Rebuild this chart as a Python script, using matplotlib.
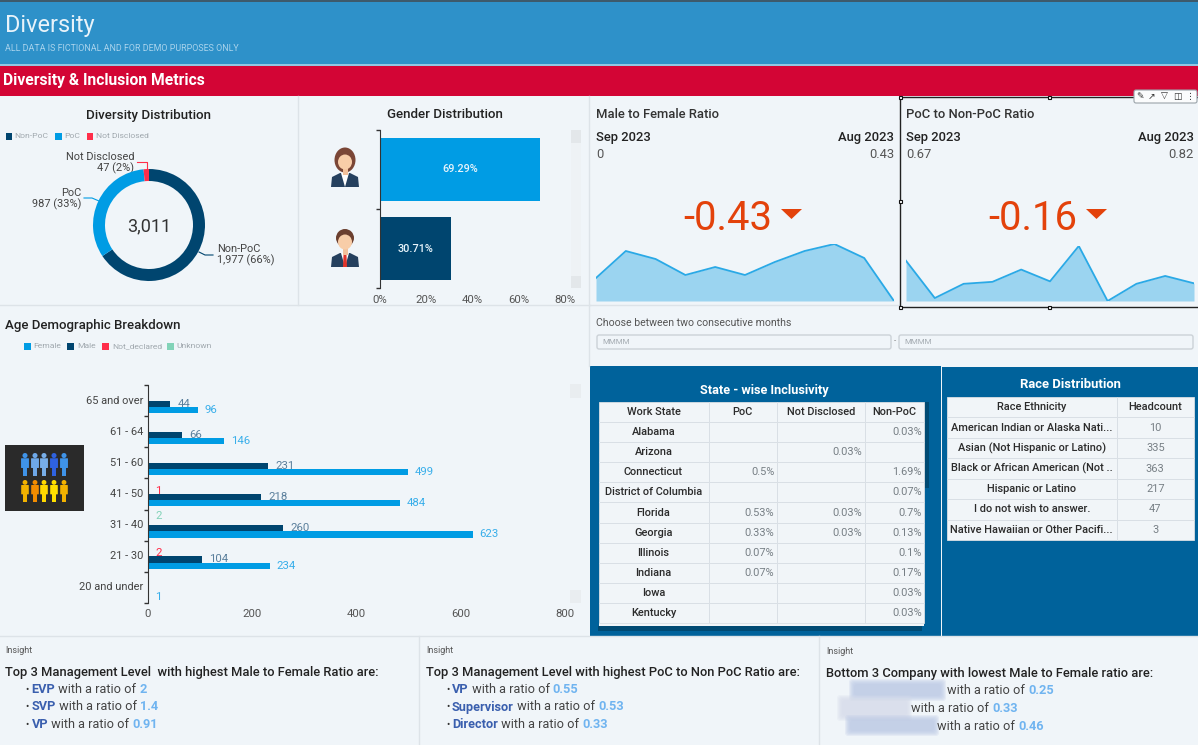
import matplotlib
matplotlib.use('Agg')
import matplotlib.pyplot as plt
from matplotlib.patches import Rectangle, Circle, Ellipse, FancyBboxPatch, Polygon
from matplotlib.table import Table

plt.rcParams['font.family'] = ['Roboto', 'DejaVu Sans']

W, H = 1198, 745

NAVY = '#00456f'
BLUE = '#009ce4'
RED = '#ff2e4a'
TEAL = '#82d3b8'
PAGE = '#f0f5f9'
LINE = '#dde3e8'

# donut
div_labels = ['Non-PoC', 'PoC', 'Not Disclosed']
div_values = [1977, 987, 47]
div_colors = [NAVY, BLUE, RED]

# gender
gender_values = [69.29, 30.71]
gender_colors = [BLUE, NAVY]
gender_ticks = [0, 20, 40, 60, 80]

# age
age_groups = ['65 and over', '61 - 64', '51 - 60', '41 - 50', '31 - 40', '21 - 30', '20 and under']
age_female = [96, 146, 499, 484, 623, 234, 1]
age_male = [44, 66, 231, 218, 260, 104, None]
age_notdecl = [None, None, None, 1, None, 2, None]
age_unknown = [None, None, None, None, 2, None, None]
age_ticks = [0, 200, 400, 600, 800]

# sparklines
ratio_mf = [0.23, 0.50, 0.42, 0.26, 0.34, 0.26, 0.39, 0.50, 0.57, 0.43, 0.0]
ratio_poc = [1.13, 0.37, 0.66, 0.70, 0.95, 0.71, 1.43, 0.31, 0.66, 0.82, 0.67]

# tables
state_header = ['Work State', 'PoC', 'Not Disclosed', 'Non-PoC']
state_names = ['Alabama', 'Arizona', 'Connecticut', 'District of Columbia', 'Florida',
               'Georgia', 'Illinois', 'Indiana', 'Iowa', 'Kentucky']
state_poc = ['', '', '0.5%', '', '0.53%', '0.33%', '0.07%', '0.07%', '', '']
state_nd = ['', '0.03%', '', '', '0.03%', '0.03%', '', '', '', '']
state_non = ['0.03%', '', '1.69%', '0.07%', '0.7%', '0.13%', '0.1%', '0.17%', '0.03%', '0.03%']

race_header = ['Race Ethnicity', 'Headcount']
race_names = ['American Indian or Alaska Nati...', 'Asian (Not Hispanic or Latino)',
              'Black or African American (Not ..', 'Hispanic or Latino',
              'I do not wish to answer.', 'Native Hawaiian or Other Pacifi...']
race_counts = ['10', '335', '363', '217', '47', '3']


def axes_px(x0, y0, x1, y1, **kw):
    return fig.add_axes([x0 / W, 1 - y1 / H, (x1 - x0) / W, (y1 - y0) / H], **kw)


def T(x, y, s, px=11, color='#222222', weight='normal', ha='left', va='center', a=None, **kw):
    return (a or bg).text(x, y, s, fontsize=px * 0.72, color=color, fontweight=weight,
                          ha=ha, va=va, **kw)


def rect(x0, y0, x1, y1, color, a=None, **kw):
    (a or bg).add_patch(Rectangle((x0, y0), x1 - x0, y1 - y0, facecolor=color, edgecolor='none', **kw))


def segments(x, y, parts, px=12.8):
    # write coloured pieces one after another on a line
    rend = fig.canvas.get_renderer()
    for s, color, weight in parts:
        t = T(x, y, s, px, color, weight)
        x += t.get_window_extent(rend).width


def legend_row(y, items):
    for sx, tx, color, label in items:
        rect(sx, y - 3.5, sx + 6.5, y + 3.5, color)
        T(tx, y, label, 8.5, '#a0a8ae')


def person(a, cx, y0, y1, color):
    h = y1 - y0
    a.add_patch(Circle((cx, y0 + h * 0.11), h * 0.11, facecolor=color, edgecolor='none'))
    a.add_patch(FancyBboxPatch((cx - h * 0.15, y0 + h * 0.25), h * 0.3, h * 0.38,
                               boxstyle='round,pad=0.5', facecolor=color, edgecolor='none'))
    rect(cx - h * 0.1, y0 + h * 0.6, cx + h * 0.1, y1, color)


def avatar(a, cx, y0, hair, tie):
    # simple bust, 28 px wide and 39 px tall
    a.add_patch(Polygon([(cx - 14, y0 + 39), (cx - 13, y0 + 29), (cx - 5, y0 + 25), (cx + 5, y0 + 25),
                         (cx + 13, y0 + 29), (cx + 14, y0 + 39)], facecolor='#25405e', edgecolor='none'))
    a.add_patch(Polygon([(cx - 4, y0 + 25), (cx + 4, y0 + 25), (cx, y0 + 39)], facecolor='#ffffff', edgecolor='none'))
    if tie:
        a.add_patch(Polygon([(cx - 1.5, y0 + 27), (cx + 1.5, y0 + 27), (cx + 2, y0 + 39), (cx - 2, y0 + 39)],
                            facecolor='#e0342a', edgecolor='none'))
        a.add_patch(Circle((cx, y0 + 10), 9, facecolor=hair, edgecolor='none'))
    else:
        a.add_patch(Ellipse((cx, y0 + 12), 21, 25, facecolor=hair, edgecolor='none'))
    rect(cx - 2.5, y0 + 19, cx + 2.5, y0 + 27, '#f3c19b', a)
    a.add_patch(Ellipse((cx, y0 + 14), 14, 15, facecolor='#f8cda8', edgecolor='none'))


def make_table(x0, y0, x1, y1, widths, rows, right_cols, px):
    a = axes_px(x0, y0, x1, y1)
    a.axis('off')
    tbl = Table(a, bbox=[0, 0, 1, 1])
    n = len(rows)
    for r, row in enumerate(rows):
        for c, val in enumerate(row):
            loc = 'right' if (r > 0 and c in right_cols) else 'center'
            cell = tbl.add_cell(r, c, widths[c], 1 / n, text=val, loc=loc,
                                facecolor='#f1f5f8', edgecolor='#d9dfe4')
            cell.PAD = 0.03
            cell.set_linewidth(0.6)
            bold = r == 0 or c == 0
            cell.get_text().set_color('#2b2b2b' if bold else '#777f85')
            cell.get_text().set_fontweight('medium' if bold else 'normal')
    tbl.auto_set_font_size(False)
    tbl.set_fontsize(px * 0.72)
    a.add_table(tbl)
    return a


fig = plt.figure(figsize=(W / 100, H / 100), dpi=100, facecolor=PAGE)
bg = fig.add_axes([0, 0, 1, 1], zorder=-1)
bg.set_xlim(0, W)
bg.set_ylim(H, 0)
bg.axis('off')

# banners
rect(0, 0, W, 2, '#3d5a6c')
rect(0, 2, W, 64, '#2e91c9')
rect(0, 64, W, 66, '#92c7e3')
rect(0, 66, W, 96, '#d30535')
T(5, 25.5, 'Diversity', 23.5, '#e8f3fa')
T(5, 48.5, 'ALL DATA IS FICTIONAL AND FOR DEMO PURPOSES ONLY', 8.9, '#a9d3ec')
T(3, 80.5, 'Diversity & Inclusion Metrics', 15.6, '#ffffff', 'bold')

# panel separators
bg.plot([298, 298], [96, 305], color=LINE, lw=1)
bg.plot([589, 589], [96, 366], color=LINE, lw=1)
bg.plot([0, 590], [305, 305], color=LINE, lw=1)
bg.plot([590, 900], [305, 305], color=LINE, lw=1)
bg.plot([0, W], [636, 636], color=LINE, lw=1)
bg.plot([419, 419], [636, H], color=LINE, lw=1)
bg.plot([819, 819], [636, H], color=LINE, lw=1)

# donut panel
T(149, 115, 'Diversity Distribution', 13.4, '#222222', 'medium', ha='center')
legend_row(136, [(5.7, 14.5, div_colors[0], div_labels[0]),
                 (55, 64, div_colors[1], div_labels[1]),
                 (86.5, 96, div_colors[2], div_labels[2])])
ax = axes_px(93, 169, 205, 281)
ax.pie(div_values, colors=div_colors, startangle=90, counterclock=False, radius=1,
       wedgeprops={'width': 12 / 56})
ax.set_xlim(-1, 1)
ax.set_ylim(-1, 1)
T(149, 226, f'{sum(div_values):,}', 18, '#333333', ha='center')
T(134, 157.5, 'Not Disclosed', 11, '#444444', ha='right')
T(134, 168.5, f'{div_values[2]} (2%)', 11, '#444444', ha='right')
T(81, 193, 'PoC', 11, '#444444', ha='right')
T(81, 204, f'{div_values[1]} (33%)', 11, '#444444', ha='right')
T(217, 249, 'Non-PoC', 11, '#444444')
T(217, 260.5, f'{div_values[0]:,} (66%)', 11, '#444444')
bg.plot([137, 147, 147], [162, 162, 170], color=RED, lw=0.8)
bg.plot([84, 92, 99], [198, 198, 201], color=BLUE, lw=0.8)
bg.plot([199, 205, 213], [252, 255, 255], color=NAVY, lw=0.8)

# gender panel
T(445, 115, 'Gender Distribution', 13.4, '#222222', 'medium', ha='center')
ax = axes_px(380, 130, 565, 288)
ax.patch.set_visible(False)
ax.barh([0, 1], gender_values, height=0.81, color=gender_colors)
ax.set_ylim(1.5, -0.5)
ax.set_xlim(0, 80)
ax.set_yticks([-0.5, 0.5, 1.5])
ax.set_yticklabels([])
ax.set_xticks(gender_ticks)
ax.set_xticklabels([f'{t}%' for t in gender_ticks], fontsize=8.2, color='#555555')
ax.tick_params(axis='x', length=0, pad=5)
ax.tick_params(axis='y', length=3, width=1, color='#333333')
for s in ['top', 'right', 'bottom']:
    ax.spines[s].set_visible(False)
ax.spines['left'].set_color('#333333')
ax.margins(0)
for i, v in enumerate(gender_values):
    ax.text(v / 2, i, f'{v}%', ha='center', va='center', color='#e8f4fb', fontsize=7.8, fontweight='medium')
avatar(bg, 345, 148, '#7a4636', False)
avatar(bg, 345, 228, '#6b3f2f', True)
rect(571, 130, 581, 288, '#eef2f5')
rect(571, 130, 581, 143, '#e3e7ea')
rect(571, 276, 581, 288, '#e3e7ea')

# KPI panels
for x0, x1, title, v_new, v_old, delta in [(596, 894, 'Male to Female Ratio', '0', '0.43', '-0.43'),
                                           (906, 1194, 'PoC to Non-PoC Ratio', '0.67', '0.82', '-0.16')]:
    T(x0, 115, title, 13, '#333333', 'medium')
    T(x0, 137, 'Sep 2023', 13, '#222222', 'medium')
    T(x1, 137, 'Aug 2023', 13, '#222222', 'medium', ha='right')
    T(x0, 155, v_new, 13, '#555555')
    T(x1, 155, v_old, 13, '#555555', ha='right')
T(728, 218.5, '-0.43', 40, '#e3420b', ha='center')
T(1033, 218.5, '-0.16', 40, '#e3420b', ha='center')
bg.add_patch(Polygon([(781, 209), (802, 209), (791.5, 219)], facecolor='#e3420b', edgecolor='none'))
bg.add_patch(Polygon([(1086, 209), (1107, 209), (1096.5, 219)], facecolor='#e3420b', edgecolor='none'))

ax = axes_px(596, 244, 894, 301)
ax.fill_between(range(len(ratio_mf)), ratio_mf, 0, color='#9bd4f0', lw=0)
ax.plot(range(len(ratio_mf)), ratio_mf, color='#2aa9e6', lw=1.3)
ax.set_xlim(0, len(ratio_mf) - 1)
ax.set_ylim(0, max(ratio_mf))
ax.axis('off')

ax = axes_px(906, 246, 1194, 301)
ax.fill_between(range(len(ratio_poc)), ratio_poc, min(ratio_poc), color='#9bd4f0', lw=0)
ax.plot(range(len(ratio_poc)), ratio_poc, color='#2aa9e6', lw=1.3)
ax.set_xlim(0, len(ratio_poc) - 1)
ax.set_ylim(min(ratio_poc), max(ratio_poc))
ax.axis('off')

# month filter
T(596, 322.5, 'Choose between two consecutive months', 10.5, '#555555')
for x0, x1 in [(597, 891), (899, 1193)]:
    bg.add_patch(FancyBboxPatch((x0, 335), x1 - x0, 14, boxstyle='round,pad=0,rounding_size=2',
                                facecolor=PAGE, edgecolor='#ccd2d7', lw=1))
    T(x0 + 5, 342, 'MMMM', 8, '#a6adb3')
T(895, 341, '-', 8, '#777777', ha='center')

# age panel
T(5, 325, 'Age Demographic Breakdown', 13.2, '#222222', 'medium')
legend_row(346, [(24, 33.5, BLUE, 'Female'), (67, 77, NAVY, 'Male'),
                 (102, 112, RED, 'Not_declared'), (167, 176, TEAL, 'Unknown')])
ax = axes_px(147.5, 385, 565, 603)
ax.patch.set_visible(False)
series = [(age_unknown, TEAL, TEAL, -0.3), (age_notdecl, RED, RED, -0.1),
          (age_male, NAVY, '#5a7f9c', 0.1), (age_female, BLUE, '#38aeea', 0.3)]
for values, color, label_color, off in series:
    for i, v in enumerate(values):
        if v is None:
            continue
        ax.barh(i + off, v, height=0.2, color=color)
        ax.annotate(str(v), (v, i + off), xytext=(5, 0), textcoords='offset points',
                    va='center', ha='left', color=label_color, fontsize=8.2)
ax.set_xlim(0, 800)
ax.set_ylim(len(age_groups) - 0.5, -0.5)
ax.set_xticks(age_ticks)
ax.set_xticklabels(age_ticks, fontsize=8.2, color='#555555')
ax.tick_params(axis='x', length=0, pad=4)
ax.set_yticks([i - 0.5 for i in range(len(age_groups) + 1)])
ax.set_yticklabels([])
ax.tick_params(axis='y', length=3, width=1, color='#333333')
for s in ['top', 'right', 'bottom']:
    ax.spines[s].set_visible(False)
ax.spines['left'].set_color('#333333')
for i, name in enumerate(age_groups):
    T(143, 385 + 218 * (i + 0.5) / len(age_groups), name, 11, '#444444', ha='right')
rect(570, 384, 581, 398, '#e9edf0')
rect(570, 590, 581, 603, '#e9edf0')

# picture of people
rect(5, 445, 84, 511, '#2a2a2a')
top_people = ['#3f93e8', '#6ea8e8', '#78aee8', '#2f62e0', '#3f93e8']
low_people = ['#f2b200', '#f28c00', '#ffd800', '#ffe000', '#f2b200']
for cx, c in zip([25, 35, 44, 54, 64], top_people):
    person(bg, cx, 453, 476, c)
for cx, c in zip([25, 35, 44, 54, 64], low_people):
    person(bg, cx, 480, 502, c)

# state and race tables
rect(590, 366, 941, 636, '#00629b')
rect(942, 367, W, 636, '#00629b')
T(764, 390.5, 'State - wise Inclusivity', 12.8, '#ffffff', 'bold', ha='center')
T(1070, 384, 'Race Distribution', 13, '#ffffff', 'bold', ha='center')

state_rows = [state_header] + [list(r) for r in zip(state_names, state_poc, state_nd, state_non)]
sw = [110 / 325, 68 / 325, 88.5 / 325, 58.5 / 325]
rect(598.5, 623, 923.5, 626, '#f1f5f8')
make_table(598.5, 402, 923.5, 623, sw, state_rows, {1, 2, 3}, 11)
rect(924, 402, 929, 488, '#004a73')
rect(598, 626, 922, 631, '#004a73')

race_rows = [race_header] + [list(r) for r in zip(race_names, race_counts)]
make_table(947, 397, 1194, 540, [169.6 / 247, 77.4 / 247], race_rows, set(), 11)

# insights
T(5, 650.5, 'Insight', 9, '#555555')
T(426, 650.5, 'Insight', 9, '#555555')
T(826, 652, 'Insight', 9, '#555555')
HEAD = '#222222'
TXT = '#444444'
KEY = '#3a5fae'
VAL = '#70b4f0'
ratio_txt = ' with a ratio of '

T(5, 672.5, 'Top 3 Management Level  with highest Male to Female Ratio are:', 12.9, HEAD, 'medium')
T(426, 672.5, 'Top 3 Management Level with highest PoC to Non PoC Ratio are:', 12.9, HEAD, 'medium')
T(826, 673.5, 'Bottom 3 Company with lowest Male to Female ratio are:', 12.9, HEAD, 'medium')

col1 = [('EVP', '2'), ('SVP', '1.4'), ('VP', '0.91')]
col2 = [('VP', '0.55'), ('Supervisor', '0.53'), ('Director', '0.33')]
col3 = [(947, '0.25'), (911, '0.33'), (937, '0.46')]
for y, (k, v) in zip([689.5, 707, 725], col1):
    T(25, y, '•', 10, '#333333')
    segments(31.5, y, [(k, KEY, 'bold'), (ratio_txt, TXT, 'normal'), (v, VAL, 'bold')])
for y, (k, v) in zip([689.5, 707, 725], col2):
    T(446, y, '•', 10, '#333333')
    segments(452, y, [(k, KEY, 'bold'), (ratio_txt, TXT, 'normal'), (v, VAL, 'bold')])
for y, (x, v) in zip([690.5, 708.5, 726], col3):
    segments(x, y, [(ratio_txt.lstrip(), TXT, 'normal'), (v, VAL, 'bold')])

# blurred company names, stacked soft boxes
for x0, y0, x1, y1, c in [(852, 682, 943, 698, '#bac7e4'), (840, 698, 909, 718, '#d5dbea'), (848, 718, 936, 733, '#bac7e4')]:
    for grow in [3, 2, 1, 0, -1, -2]:
        bg.add_patch(FancyBboxPatch((x0 - grow, y0 - grow), x1 - x0 + 2 * grow, y1 - y0 + 2 * grow,
                                    boxstyle='round,pad=0,rounding_size=3', facecolor=c,
                                    edgecolor='none', alpha=0.22))

# selection frame on the PoC visual
top = fig.add_axes([0, 0, 1, 1], zorder=10)
top.set_xlim(0, W)
top.set_ylim(H, 0)
top.axis('off')
top.plot([1198, 900, 900, 1198], [97, 97, 307, 307], color='#222222', lw=1)
for hx, hy in [(900, 97), (1049, 97), (900, 201), (900, 307), (1049, 307)]:
    top.add_patch(Rectangle((hx - 1.5, hy - 1.5), 3, 3, facecolor='#ffffff', edgecolor='#111111', lw=0.8, zorder=5))
top.add_patch(FancyBboxPatch((1134, 90), 63, 13, boxstyle='round,pad=0,rounding_size=2',
                             facecolor='#fbfcfd', edgecolor='#9aa3a9', lw=0.8, zorder=5))
for ix, glyph in zip([1140, 1151, 1164, 1177, 1190], ['\u270e', '\u2197', '\u25bd', '\u25eb', '\u22ee']):
    top.text(ix, 96.5, glyph, fontsize=6.5, family='DejaVu Sans', color='#333333', ha='center', va='center', zorder=6)

fig.savefig('out.png', dpi=100, facecolor=PAGE)
